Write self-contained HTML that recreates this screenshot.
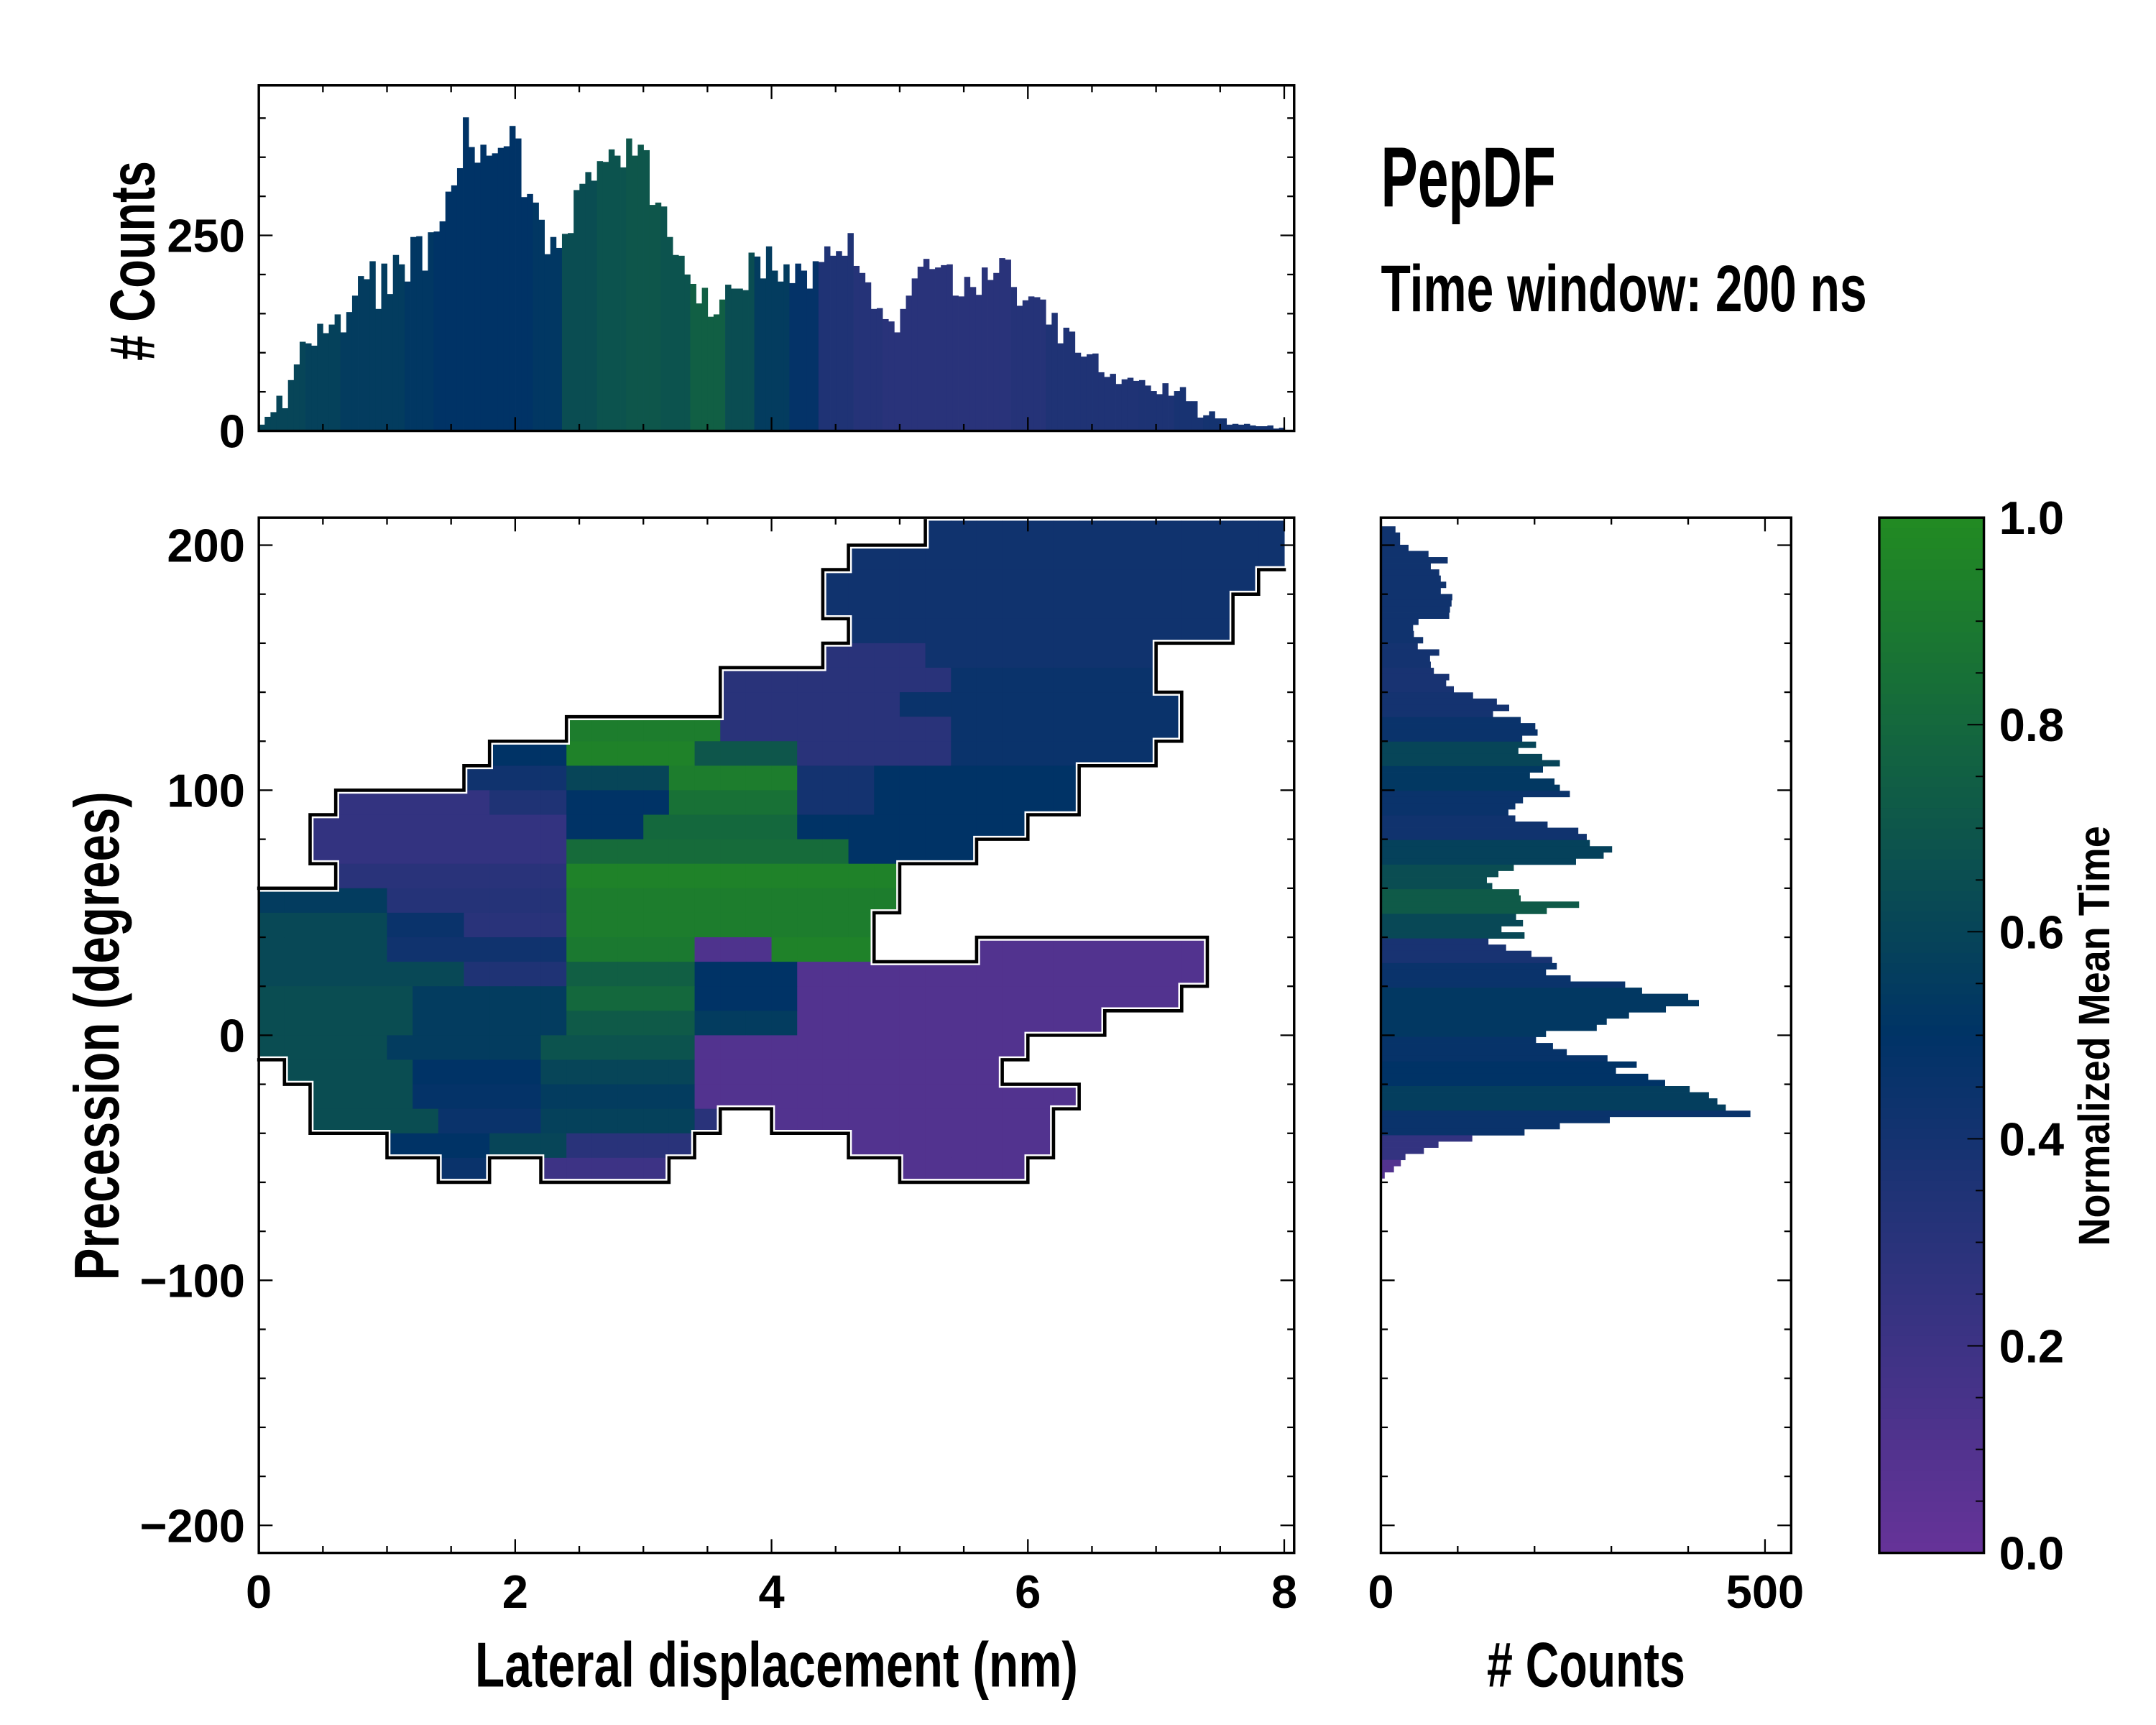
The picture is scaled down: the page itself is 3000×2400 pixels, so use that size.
<!DOCTYPE html>
<html><head><meta charset="utf-8"><style>
html,body{margin:0;padding:0;background:#fff;}
svg{display:block;}
text{font-family:"Liberation Sans Narrow","Liberation Sans",sans-serif;font-weight:bold;fill:#000;}
</style></head><body>
<svg id="fig" xmlns="http://www.w3.org/2000/svg" width="3000" height="2400" viewBox="0 0 1566 1253" preserveAspectRatio="none">
<g id="heat"></g>
<g id="outline"></g>
<g id="tophist"></g>
<g id="righthist"></g>
<g id="cbar"></g>
<g id="axes"></g>
<text x="1003" y="150" font-size="62" textLength="127" lengthAdjust="spacingAndGlyphs">PepDF</text>
<text x="1003" y="226" font-size="48" textLength="353" lengthAdjust="spacingAndGlyphs">Time window: 200 ns</text>
<text transform="translate(112,262) rotate(-90)" font-size="46" textLength="145" lengthAdjust="spacingAndGlyphs"># Counts</text>
<text transform="translate(86,930) rotate(-90)" font-size="46" textLength="355" lengthAdjust="spacingAndGlyphs">Precession (degrees)</text>
<text x="345" y="1225" font-size="46" textLength="438" lengthAdjust="spacingAndGlyphs">Lateral displacement (nm)</text>
<text x="1080" y="1225" font-size="46" textLength="144" lengthAdjust="spacingAndGlyphs"># Counts</text>
<text transform="translate(1532,905) rotate(-90)" font-size="32" textLength="305" lengthAdjust="spacingAndGlyphs">Normalized Mean Time</text>
</svg>
<script>
// ---------- data ----------
const topCounts=[8,18,24,45,29,65,85,114,112,109,137,125,136,149,126,152,173,198,194,217,
156,214,175,225,213,191,248,249,205,254,255,268,306,314,336,401,363,343,366,352,
355,362,364,390,374,299,303,292,270,226,248,234,252,253,308,316,331,320,345,344,
360,352,337,374,352,366,359,289,292,287,248,225,224,200,188,163,183,146,149,168,
187,182,182,180,228,223,195,236,205,191,213,189,214,205,182,217,216,236,224,230,
224,253,211,202,190,156,157,143,140,126,156,173,195,210,220,207,209,212,213,173,
172,197,184,174,209,193,202,221,219,184,160,167,172,171,168,136,151,112,132,127,
100,95,98,99,75,69,73,60,66,68,64,65,58,51,47,61,45,51,56,38,
38,17,20,25,16,16,8,9,8,9,7,6,6,7,3,4,1];
const topColorX=[0,0.25,0.5,0.75,1,1.25,1.5,1.75,2,2.25,2.5,2.75,3,3.25,3.5,3.75,4,4.25,4.5,4.75,5,5.25,5.5,5.75,6,6.25,6.5,6.75,7,7.25,7.5,7.75,8];
const topColorVal=[0.6,0.6,0.58,0.55,0.55,0.52,0.5,0.5,0.5,0.52,0.65,0.68,0.7,0.68,0.75,0.65,0.55,0.48,0.35,0.32,0.3,0.3,0.3,0.3,0.32,0.35,0.35,0.35,0.36,0.38,0.4,0.4,0.4];
const rightCounts=[19,25,25,36,62,87,65,76,78,85,78,93,92,90,89,49,42,43,55,48,
76,64,65,69,89,85,95,120,151,167,146,182,201,204,184,202,179,210,233,211,
194,226,233,246,185,175,166,175,217,257,268,272,301,290,254,173,153,138,145,180,
182,258,216,176,185,157,187,140,163,196,223,229,215,247,318,340,400,414,371,323,
294,281,215,202,224,242,295,333,306,348,370,402,427,438,449,481,298,233,187,119,
75,56,32,26,17,5];
const rightColorDeg=[200,190,180,170,160,150,140,130,120,110,100,90,80,70,60,50,40,30,20,10,0,-10,-20,-30,-40,-50,-60];
const rightColorVal=[0.42,0.42,0.42,0.42,0.42,0.4,0.38,0.4,0.45,0.6,0.53,0.45,0.42,0.58,0.65,0.72,0.62,0.38,0.45,0.53,0.53,0.47,0.5,0.56,0.45,0.25,0.1];
const heatRowDeg=[200,190,180,170,160,150,140,130,120,110,100,90,80,70,60,50,40,30,20,10,0,-10,-20,-30,-40,-50,-60];
const heatRowSegs=["26-39:.42","23-39:.42","22-38:.42","22-37:.42","23-37:.42",
"22-25:.3,26-34:.42","18-26:.3,27-34:.45","18-24:.3,25-35:.45",
"12-17:.92,18-26:.3,27-35:.45","9-11:.5,12-16:.95,17-20:.7,21-26:.3,27-34:.45",
"8-11:.42,12-15:.6,16-20:.92,21-23:.4,24-31:.5","3-8:.25,9-11:.35,12-15:.5,16-20:.85,21-23:.4,24-31:.5",
"2-11:.25,12-14:.5,15-20:.8,21-29:.5","2-11:.25,12-22:.82,23-27:.5","3-11:.3,12-24:.95",
"0-4:.55,5-11:.32,12-24:.92","0-4:.62,5-7:.45,8-11:.3,12-23:.92",
"0-4:.62,5-11:.42,12-16:.9,17-19:.12,20-23:.95,28-36:.1",
"0-7:.62,8-11:.35,12-16:.75,17-20:.5,21-36:.1","0-5:.65,6-11:.55,12-16:.8,17-20:.5,21-35:.1",
"0-5:.65,6-11:.55,12-16:.72,17-20:.55,21-32:.1","0-4:.65,5-10:.55,11-16:.68,17-29:.1",
"1-5:.65,6-10:.5,11-16:.6,17-28:.1","2-5:.65,6-10:.48,11-16:.55,17-31:.1",
"2-6:.65,7-10:.45,11-16:.58,17-17:.3,20-30:.1","5-8:.5,9-11:.6,12-16:.3,23-30:.1","7-8:.45,11-15:.2,25-29:.1"];
const xTickLabels=["0","2","4","6","8"];
const yTickLabels=["200","100","0","\u2212100","\u2212200"];
const topYTickLabels=["0","250"];
const rightXTickLabels=["0","500"];
const cbarTickLabels=["0.0","0.2","0.4","0.6","0.8","1.0"];

// ---------- scales ----------
const NS="http://www.w3.org/2000/svg";
const X=v=>188+93.1*v, Y=d=>752-1.78*d;
const Yt=c=>313-0.568*c, Xr=c=>1003+0.558*c;
const Ycb=v=>1128-752*v;
const cellW=0.2, cellH=10, topBinW=8.05/topCounts.length, rBinH=2.51, rTop=207.7;
function cmap(v){
  const a=[102,51,153],b=[0,51,102],c=[34,139,34];
  let p,q,t; if(v<0.5){p=a;q=b;t=v/0.5;}else{p=b;q=c;t=(v-0.5)/0.5;}
  return 'rgb('+p.map((x,i)=>Math.round(x+(q[i]-x)*t)).join(',')+')';
}
function mk(tag,attrs,parent){const e=document.createElementNS(NS,tag);for(const k in attrs)e.setAttribute(k,attrs[k]);parent.appendChild(e);return e;}

// ---------- heatmap ----------
const heat=document.getElementById('heat');
const grid={};
heatRowDeg.forEach((deg,ri)=>{
  heatRowSegs[ri].split(',').forEach(s=>{
    const [rng,val]=s.split(':'); const [a,b]=rng.split('-').map(Number);
    for(let c=a;c<=b;c++){
      grid[deg+'_'+c]=true;
      const r=mk('rect',{x:X(c*cellW),y:Y(Math.min(deg+cellH,210.7)),width:X((c+1)*cellW)-X(c*cellW)+0.3,height:Y(deg)-Y(Math.min(deg+cellH,210.7))+0.3,fill:cmap(+val)},heat);
      
      
    }
  });
});
const ol=document.getElementById('outline');
let dpath='';
heatRowDeg.forEach(deg=>{
  for(let c=0;c<40;c++){
    if(!grid[deg+'_'+c]) continue;
    const x0=X(c*cellW),x1=X((c+1)*cellW),y0=Y(Math.min(deg+cellH,210.7)),y1=Y(deg);
    if(!grid[(deg+cellH)+'_'+c] && deg+cellH<210) dpath+=`M${x0},${y0}H${x1}`;
    if(!grid[(deg-cellH)+'_'+c]) dpath+=`M${x0},${y1}H${x1}`;
    if(!grid[deg+'_'+(c-1)] && c>0) dpath+=`M${x0},${y0}V${y1}`;
    if(!grid[deg+'_'+(c+1)] && c<39) dpath+=`M${x1},${y0}V${y1}`;
  }
});
const o1=mk('path',{d:dpath,stroke:'#fff',"stroke-width":5,fill:'none',"stroke-linecap":"square"},ol);


const o2=mk('path',{d:dpath,stroke:'#000',"stroke-width":2.4,fill:'none',"stroke-linecap":"square"},ol);



// ---------- top histogram ----------
const th=document.getElementById('tophist');
function nearestVal(xs,vs,x){let bi=0,bd=1e9;xs.forEach((v,i)=>{const d=Math.abs(v-x);if(d<bd){bd=d;bi=i;}});return vs[bi];}
topCounts.forEach((c,i)=>{
  const x0=i*topBinW;
  const r=mk('rect',{x:X(x0),y:Yt(c),width:X(x0+topBinW)-X(x0)+0.2,height:313-Yt(c),fill:cmap(nearestVal(topColorX,topColorVal,x0+topBinW/2))},th);
  
  
});
// ---------- right histogram ----------
const rh=document.getElementById('righthist');
rightCounts.forEach((c,i)=>{
  const d1=rTop-i*rBinH, d0=d1-rBinH;
  const r=mk('rect',{x:1003,y:Y(d1),width:Xr(c)-1003,height:Y(d0)-Y(d1)+0.2,fill:cmap(nearestVal(rightColorDeg.map(v=>v+5),rightColorVal,(d0+d1)/2))},rh);
  
  
});
// ---------- colorbar ----------
const cb=document.getElementById('cbar');
for(let i=0;i<100;i++){
  const v0=i/100,v1=(i+1)/100;
  const r=mk('rect',{x:1365,y:Ycb(v1),width:76,height:Ycb(v0)-Ycb(v1)+0.3,fill:cmap((v0+v1)/2)},cb);
  
  
}
// ---------- axes ----------
const ax=document.getElementById('axes');
function line(x1,y1,x2,y2,w){const l=mk('line',{x1,y1,x2,y2,stroke:'#000',"stroke-width":w||1.2},ax);}
function frame(x,y,w,h,name){const r=mk('rect',{x,y,width:w,height:h,fill:'none',stroke:'#000',"stroke-width":1.8},ax);}
function label(txt,x,y,anchor,name){const t=mk('text',{x,y,"font-size":34,"text-anchor":anchor},ax);t.textContent=txt;}
frame(188,376,752,752,'main-axes-frame');
frame(188,62,752,251,'top-axes-frame');
frame(1003,376,298,752,'right-axes-frame');
frame(1365,376,76,752,'colorbar-frame');
for(let v=0;v<=8.001;v+=0.5){
  const major=Math.abs(v/2-Math.round(v/2))<1e-6, L=major?10:5, x=X(v);
  line(x,1128,x,1128-L); line(x,376,x,376+L);
  line(x,313,x,313-L); line(x,62,x,62+L);
}
xTickLabels.forEach((t,i)=>label(t,X(i*2),1168,'middle','x-tick-label'));
for(let d=-200;d<=200;d+=20){
  const major=d%100===0, L=major?10:5, y=Y(d);
  line(188,y,188+L,y); line(940,y,940-L,y);
  line(1003,y,1003+L,y); line(1301,y,1301-L,y);
}
yTickLabels.forEach((t,i)=>label(t,178,Y(200-i*100)+12,'end','y-tick-label'));
for(let c=0;c<=400;c+=50){
  const major=c%250===0,L=major?10:5,y=Yt(c);
  line(188,y,188+L,y); line(940,y,940-L,y);
}
topYTickLabels.forEach((t,i)=>label(t,178,Yt(i*250)+12,'end','top-y-tick-label'));
for(let c=0;c<=500;c+=100){
  const major=c%500===0,L=major?10:5,x=Xr(c);
  line(x,1128,x,1128-L); line(x,376,x,376+L);
}
rightXTickLabels.forEach((t,i)=>label(t,Xr(i*500),1168,'middle','right-x-tick-label'));
for(let i=0;i<=20;i++){
  const v=i/20,major=i%4===0,L=major?12:6,y=Ycb(v);
  line(1441,y,1441-L,y,1);
}
cbarTickLabels.forEach((t,i)=>label(t,1452,Ycb(i*0.2)+12,'start','colorbar-tick-label'));
</script>
</body></html>
